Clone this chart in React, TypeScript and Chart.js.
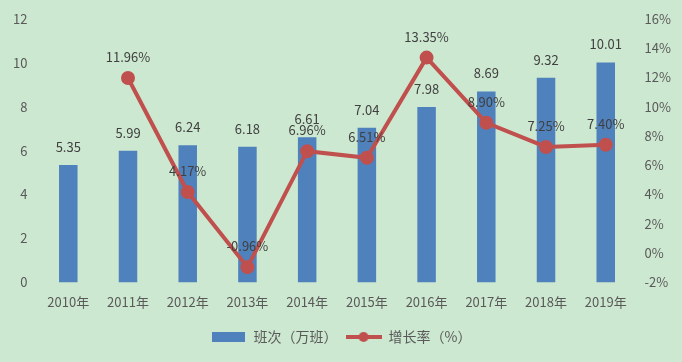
import React, { useEffect, useRef } from "react";
import { Chart, registerables } from "chart.js";

Chart.register(...registerables);

const categories = ["2010年", "2011年", "2012年", "2013年", "2014年", "2015年", "2016年", "2017年", "2018年", "2019年"];
const trips = [5.35, 5.99, 6.24, 6.18, 6.61, 7.04, 7.98, 8.69, 9.32, 10.01];
const growth = [null, 11.96, 4.17, -0.96, 6.96, 6.51, 13.35, 8.9, 7.25, 7.4];
const barName = "班次（万班）";
const lineName = "增长率（%）";

const BAR = "#4f81bd";
const LINE = "#c0504d";
const BG = "#cde8d0";
const FONT = "'Noto Sans CJK SC', 'DejaVu Sans', sans-serif";

function makeBarSwatch() {
  const c = document.createElement("canvas");
  c.width = 33; c.height = 10;
  const g = c.getContext("2d")!;
  g.fillStyle = BAR; g.fillRect(0, 0, 33, 10);
  return c;
}
function makeLineSwatch() {
  const c = document.createElement("canvas");
  c.width = 36; c.height = 12;
  const g = c.getContext("2d")!;
  g.strokeStyle = LINE; g.lineWidth = 4;
  g.beginPath(); g.moveTo(0, 6); g.lineTo(36, 6); g.stroke();
  g.fillStyle = LINE; g.beginPath(); g.arc(18, 6, 5, 0, Math.PI * 2); g.fill();
  return c;
}

const labelPlugin = {
  id: "valueLabels",
  afterDatasetsDraw(chart: any) {
    const ctx = chart.ctx;
    ctx.save();
    ctx.font = `13px ${FONT}`;
    ctx.fillStyle = "#404040";
    ctx.textAlign = "center";
    ctx.textBaseline = "middle";
    const m0 = chart.getDatasetMeta(0);
    m0.data.forEach((el: any, i: number) => {
      ctx.fillText(trips[i].toFixed(2), el.x, el.y - 18);
    });
    const m1 = chart.getDatasetMeta(1);
    m1.data.forEach((el: any, i: number) => {
      const v = growth[i];
      if (v === null) return;
      ctx.fillText(v.toFixed(2) + "%", el.x, el.y - 21);
    });
    ctx.restore();
  },
};

const bgPlugin = {
  id: "bg",
  beforeDraw(chart: any) {
    const ctx = chart.ctx;
    ctx.save();
    ctx.fillStyle = BG;
    ctx.fillRect(0, 0, chart.width, chart.height);
    ctx.restore();
  },
};

export default function App() {
  const ref = useRef<HTMLCanvasElement>(null);
  useEffect(() => {
    document.body.style.margin = "0";
    const barSw = makeBarSwatch();
    const lineSw = makeLineSwatch();
    const chart = new Chart(ref.current!, {
      data: {
        labels: categories,
        datasets: [
          {
            type: "bar",
            label: barName,
            data: trips,
            backgroundColor: BAR,
            yAxisID: "y",
            categoryPercentage: 1,
            barPercentage: 0.31,
            order: 2,
          },
          {
            type: "line",
            label: lineName,
            data: growth,
            borderColor: LINE,
            backgroundColor: LINE,
            borderWidth: 4,
            pointRadius: 5,
            pointHoverRadius: 5,
            yAxisID: "y1",
            order: 1,
          },
        ],
      } as any,
      options: {
        animation: false,
        responsive: false,
        layout: { padding: { left: 2, right: 2, top: 12, bottom: 8 } },
        plugins: {
          tooltip: { enabled: false },
          legend: {
            position: "bottom",
            labels: {
              usePointStyle: true,
              pointStyleWidth: 36,
              boxHeight: 12,
              padding: 8,
              color: "#595959",
              font: { size: 14, family: FONT },
              generateLabels: () => [
                { text: barName, pointStyle: barSw, fillStyle: BAR, strokeStyle: BAR, lineWidth: 0, hidden: false, datasetIndex: 0, fontColor: "#595959" },
                { text: lineName, pointStyle: lineSw, fillStyle: LINE, strokeStyle: LINE, lineWidth: 0, hidden: false, datasetIndex: 1, fontColor: "#595959" },
              ] as any,
            },
          },
        },
        scales: {
          x: {
            grid: { display: false, drawTicks: false },
            border: { display: false },
            ticks: { color: "#595959", font: { size: 13, family: FONT }, padding: 12, maxRotation: 0 },
          },
          y: {
            position: "left",
            min: 0,
            max: 12,
            grid: { display: false, drawTicks: false },
            border: { display: false },
            ticks: { stepSize: 2, color: "#595959", font: { size: 13, family: FONT }, padding: 11 },
          },
          y1: {
            position: "right",
            min: -2,
            max: 16,
            grid: { display: false, drawTicks: false },
            border: { display: false },
            ticks: { stepSize: 2, color: "#595959", font: { size: 13, family: FONT }, padding: 9, callback: (v: any) => `${v}%` },
          },
        },
      },
      plugins: [bgPlugin, labelPlugin],
    });
    return () => chart.destroy();
  }, []);
  return (
    <div style={{ width: 682, height: 362, background: BG }}>
      <canvas ref={ref} width={682} height={362} style={{ display: "block" }} />
    </div>
  );
}
